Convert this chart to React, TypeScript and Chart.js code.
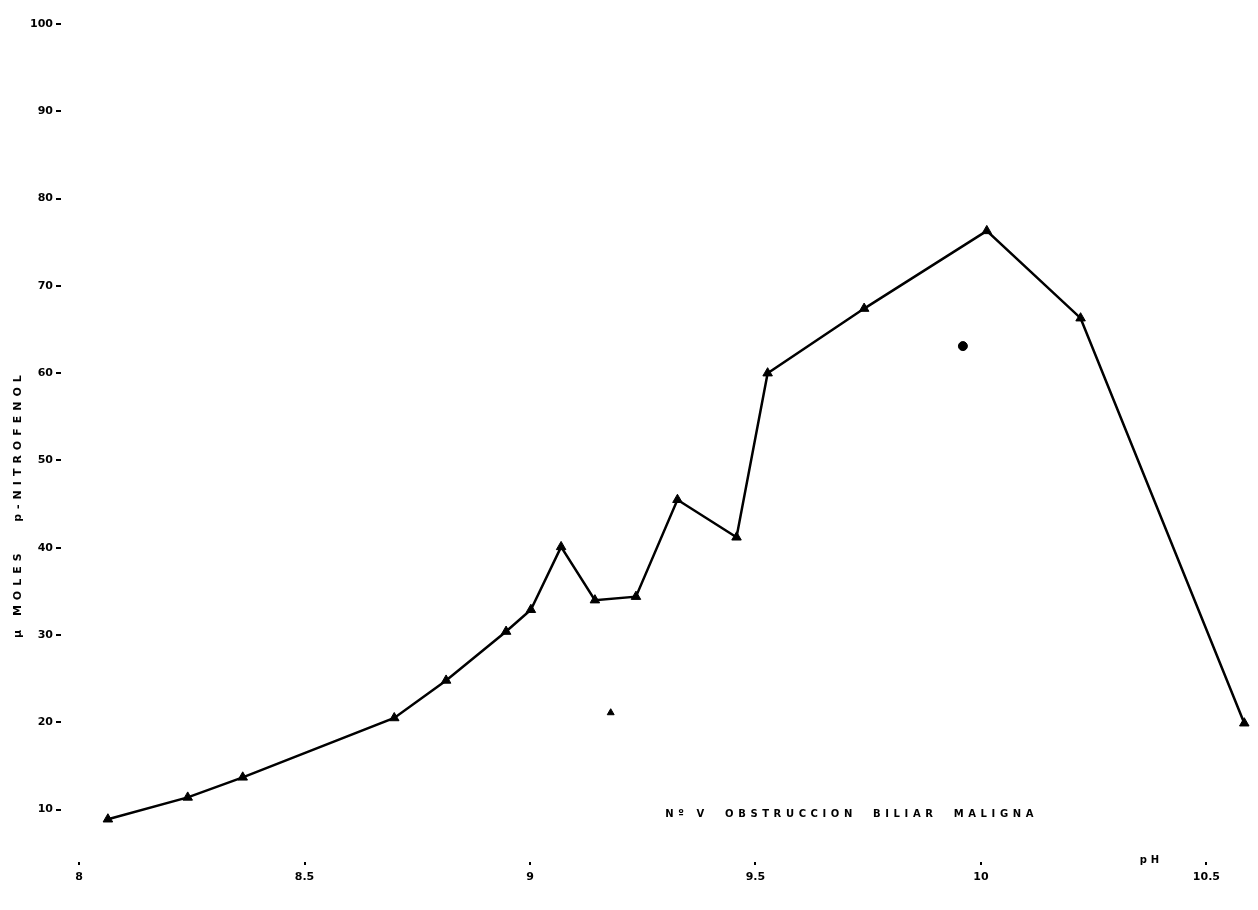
import React, { useEffect, useRef } from "react";
import { Chart, registerables } from "chart.js";

Chart.register(...registerables);

// Main series: pH vs µmoles p-nitrofenol
const phValues = [8.064, 8.241, 8.363, 8.699, 8.814, 8.947, 9.002, 9.069, 9.144, 9.235, 9.327, 9.458, 9.527, 9.741, 10.013, 10.221, 10.584];
const nitrofenolValues = [8.9, 11.4, 13.7, 20.5, 24.8, 30.4, 32.9, 40.1, 34.0, 34.4, 45.5, 41.2, 60.0, 67.4, 76.3, 66.3, 19.9];

// Isolated points (not joined)
const extraPh = [9.96, 9.179];
const extraValues = [63.1, 21.1];
const extraStyles = ["circle", "triangle"];
const extraRadii = [4.5, 4];

// Axes
const xTickValues = [8, 8.5, 9, 9.5, 10, 10.5];
const xTickLabels = ["8", "8.5", "9", "9.5", "10", "10.5"];
const yTickValues = [10, 20, 30, 40, 50, 60, 70, 80, 90, 100];
const yTitle = "µ MOLES   p-NITROFENOL";
const yTitleCenterValue = 45;

// Annotations (anchored at data coordinates)
const annotationText = "Nº V  OBSTRUCCION  BILIAR  MALIGNA";
const annotationAt = [9.3, 9.4];
const unitText = "pH";
const unitAt = [10.352, 4.2];

const FONT = "'DejaVu Sans', sans-serif";

const textPlugin = {
  id: "scanText",
  afterDraw(chart: any) {
    const ctx = chart.ctx as CanvasRenderingContext2D;
    const xs = chart.scales.x;
    const ys = chart.scales.y;
    ctx.save();
    ctx.fillStyle = "#000";
    ctx.textBaseline = "middle";

    // Y axis title, rotated
    ctx.save();
    ctx.translate(18, ys.getPixelForValue(yTitleCenterValue));
    ctx.rotate(-Math.PI / 2);
    ctx.font = `bold 11px ${FONT}`;
    (ctx as any).letterSpacing = "5px";
    ctx.textAlign = "center";
    ctx.fillText(yTitle, 0, 0);
    ctx.restore();

    // Caption
    ctx.save();
    ctx.font = `bold 10px ${FONT}`;
    (ctx as any).letterSpacing = "4.6px";
    ctx.textAlign = "left";
    ctx.fillText(annotationText, xs.getPixelForValue(annotationAt[0]), ys.getPixelForValue(annotationAt[1]));
    ctx.restore();

    // pH unit
    ctx.save();
    ctx.font = `bold 10px ${FONT}`;
    (ctx as any).letterSpacing = "4px";
    ctx.textAlign = "left";
    ctx.fillText(unitText, xs.getPixelForValue(unitAt[0]), ys.getPixelForValue(unitAt[1]));
    ctx.restore();

    ctx.restore();
  },
};

export default function App() {
  const canvasRef = useRef<HTMLCanvasElement | null>(null);

  useEffect(() => {
    document.body.style.margin = "0";
    const canvas = canvasRef.current;
    if (!canvas) return;

    const chart = new Chart(canvas, {
      type: "line",
      data: {
        datasets: [
          {
            label: "Obstrucción biliar maligna",
            data: phValues.map((x, i) => ({ x, y: nitrofenolValues[i] })),
            borderColor: "#000",
            backgroundColor: "#000",
            borderWidth: 2.5,
            pointStyle: "triangle",
            pointRadius: 5.5,
            pointBorderWidth: 1,
            tension: 0,
            fill: false,
          },
          {
            label: "aislados",
            data: extraPh.map((x, i) => ({ x, y: extraValues[i] })),
            showLine: false,
            borderColor: "#000",
            backgroundColor: "#000",
            pointStyle: extraStyles as any,
            pointRadius: extraRadii,
            pointBorderWidth: 1,
          },
        ],
      },
      options: {
        responsive: false,
        animation: false,
        layout: { padding: { top: 24, right: 4, left: 0, bottom: 0 } },
        plugins: {
          legend: { display: false },
          tooltip: { enabled: false },
          title: { display: false },
        },
        scales: {
          x: {
            type: "linear",
            min: 7.96,
            max: 10.6,
            afterBuildTicks: (s: any) => {
              s.ticks = xTickValues.map((v) => ({ value: v }));
            },
            afterFit: (s: any) => {
              s.height = 48;
            },
            grid: { drawOnChartArea: false, drawTicks: true, tickLength: 3, color: "#000", lineWidth: 2 },
            border: { display: false },
            ticks: {
              padding: 6,
              color: "#000",
              font: { family: FONT, weight: "bold", size: 11 },
              maxRotation: 0,
              autoSkip: false,
              callback: (v: any) => {
                const idx = xTickValues.indexOf(Number(v));
                return idx >= 0 ? xTickLabels[idx] : "";
              },
            },
          },
          y: {
            type: "linear",
            min: 4,
            max: 100,
            afterBuildTicks: (s: any) => {
              s.ticks = yTickValues.map((v) => ({ value: v }));
            },
            afterFit: (s: any) => {
              s.width = 61;
            },
            grid: { drawOnChartArea: false, drawTicks: true, tickLength: 5, color: "#000", lineWidth: 2 },
            border: { display: false },
            ticks: {
              padding: 3,
              color: "#000",
              font: { family: FONT, weight: "bold", size: 11 },
            },
          },
        },
      },
      plugins: [textPlugin],
    });

    return () => chart.destroy();
  }, []);

  return (
    <div style={{ width: 1258, height: 910, background: "#fff" }}>
      <canvas ref={canvasRef} width={1258} height={910} style={{ display: "block", width: 1258, height: 910 }} />
    </div>
  );
}
